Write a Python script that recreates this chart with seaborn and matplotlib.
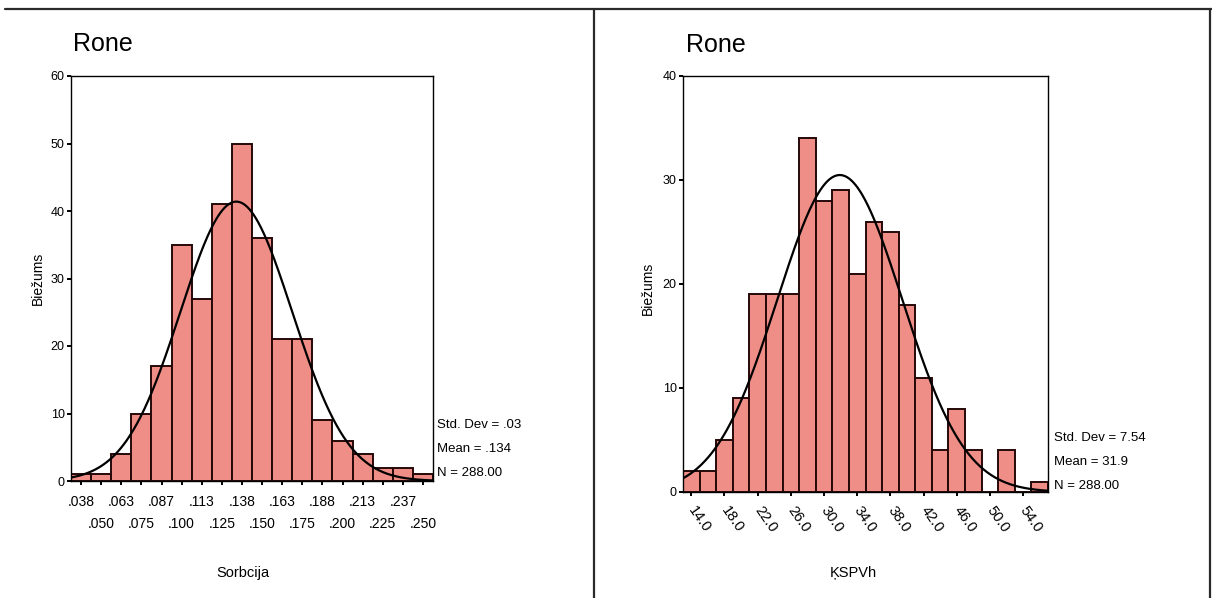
import numpy as np
import pandas as pd
import matplotlib
matplotlib.use("Agg")
import matplotlib.pyplot as plt
from matplotlib.lines import Line2D
import seaborn as sns

# ---- Sorbcija: frequency per bin (bin width 0.0125) ----
sorb_centers = [0.0375, 0.0500, 0.0625, 0.0750, 0.0875, 0.1000, 0.1125, 0.1250, 0.1375,
                0.1500, 0.1625, 0.1750, 0.1875, 0.2000, 0.2125, 0.2250, 0.2375, 0.2500]
sorb_counts = [1, 1, 4, 10, 17, 35, 27, 41, 50, 36, 21, 21, 9, 6, 4, 2, 2, 1]
sorb_ticklabels = [".038", ".050", ".063", ".075", ".087", ".100", ".113", ".125", ".138",
                   ".150", ".163", ".175", ".188", ".200", ".213", ".225", ".237", ".250"]
sorb_binwidth = 0.0125
sorb_mean = 0.134
sorb_sd = 0.0347
sorb_n = 288

# ---- KSPVh: frequency per bin (bin width 2) ----
kspvh_centers = [14, 16, 18, 20, 22, 24, 26, 28, 30, 32, 34, 36, 38, 40, 42, 44, 46, 48,
                 50, 52, 54, 56]
kspvh_counts = [2, 2, 5, 9, 19, 19, 19, 34, 28, 29, 21, 26, 25, 18, 11, 4, 8, 4, 0, 4, 0, 1]
kspvh_ticks = [14, 18, 22, 26, 30, 34, 38, 42, 46, 50, 54]
kspvh_ticklabels = ["14.0", "18.0", "22.0", "26.0", "30.0", "34.0", "38.0", "42.0",
                    "46.0", "50.0", "54.0"]
kspvh_binwidth = 2.0
kspvh_mean = 31.9
kspvh_sd = 7.54
kspvh_n = 288

title_text = "Rone"
ylabel_text = "Biežums"

sns.set_style("white")
plt.rcParams['font.family'] = ['Liberation Sans', 'DejaVu Sans']
plt.rcParams.update({"text.color": "black", "axes.labelcolor": "black",
                     "xtick.color": "black", "ytick.color": "black"})

BAR_FACE = "#EF8E86"
BAR_EDGE = "#260808"

W, H = 1212, 598
fig = plt.figure(figsize=(W / 100, H / 100), dpi=100)


def px_rect(x0, y_top, x1, y_bot):
    return [x0 / W, 1 - y_bot / H, (x1 - x0) / W, (y_bot - y_top) / H]


def draw_hist(ax, centers, counts, bw, mean, sd, n, ymax):
    centers = np.asarray(centers, dtype=float)
    lo = centers[0] - bw / 2
    hi = centers[-1] + bw / 2
    df = pd.DataFrame({"x": centers, "w": counts})
    sns.histplot(data=df, x="x", weights="w", binwidth=bw, binrange=(lo, hi), ax=ax,
                 color=BAR_FACE, edgecolor=BAR_EDGE, linewidth=1.4, alpha=1.0)
    # fitted normal curve scaled to counts
    xs = np.linspace(lo, hi, 500)
    ys = n * bw / (sd * np.sqrt(2 * np.pi)) * np.exp(-0.5 * ((xs - mean) / sd) ** 2)
    sns.lineplot(x=xs, y=ys, ax=ax, color="black", linewidth=1.6)
    ax.set_xlim(lo, hi)
    ax.set_ylim(0, ymax)
    ax.set_yticks(np.arange(0, ymax + 1, 10))
    ax.set_yticklabels([str(v) for v in range(0, ymax + 1, 10)], fontsize=9)
    ax.tick_params(axis="both", which="both", direction="out", length=3,
                   width=1.4, color="black", bottom=True, left=True)
    ax.tick_params(axis="y", pad=1.5)
    for s in ax.spines.values():
        s.set_color("black")
        s.set_linewidth(1.0)
    ax.set_xlabel("")
    ax.set_ylabel("")


def stats_block(x_px, y_px, sd_txt, mean_txt, n):
    lines = [f"Std. Dev = {sd_txt}", f"Mean = {mean_txt}", f"N = {n:.2f}"]
    for i, t in enumerate(lines):
        fig.text(x_px / W, 1 - (y_px + 24 * i) / H, t, fontsize=9.5,
                 ha="left", va="center")


# ---- left panel: Sorbcija ----
axL = fig.add_axes(px_rect(71, 76, 433, 481))
draw_hist(axL, sorb_centers, sorb_counts, sorb_binwidth, sorb_mean, sorb_sd, sorb_n, 60)
axL.set_xticks(sorb_centers[0::2])
axL.set_xticklabels(sorb_ticklabels[0::2], fontsize=10)
axL.set_xticks(sorb_centers[1::2], minor=True)
axL.set_xticklabels(sorb_ticklabels[1::2], minor=True, fontsize=10)
axL.tick_params(axis="x", which="major", pad=7)
axL.tick_params(axis="x", which="minor", pad=23)

fig.text(73 / W, 1 - 44 / H, title_text, fontsize=18, ha="left", va="center")
fig.text(38 / W, 1 - 278 / H, ylabel_text, fontsize=10, rotation=90,
         ha="center", va="center")
fig.text(243 / W, 1 - 573 / H, "Sorbcija", fontsize=10.5, ha="center", va="center")
stats_block(437, 425, f"{sorb_sd:.2f}".lstrip("0"), f"{sorb_mean:.3f}".lstrip("0"), sorb_n)

# ---- right panel: KSPVh ----
axR = fig.add_axes(px_rect(683, 76, 1048, 492))
draw_hist(axR, kspvh_centers, kspvh_counts, kspvh_binwidth, kspvh_mean, kspvh_sd,
          kspvh_n, 40)
axR.set_xticks(kspvh_ticks)
axR.set_xticklabels(kspvh_ticklabels, fontsize=10.5, rotation=-55, ha="left",
                    va="center", rotation_mode="anchor")
axR.tick_params(axis="x", which="major", pad=8)

fig.text(686 / W, 1 - 45 / H, title_text, fontsize=18, ha="left", va="center")
fig.text(648 / W, 1 - 288 / H, ylabel_text, fontsize=10, rotation=90,
         ha="center", va="center")
fig.text(853 / W, 1 - 573 / H, "ĶSPVh", fontsize=10.5, ha="center", va="center")
stats_block(1054, 438, f"{kspvh_sd:.2f}", f"{kspvh_mean:.1f}", kspvh_n)

# ---- page frame around the two panels ----
frame = [((5, 9), (1212, 9)), ((594, 9), (594, 598)), ((1210, 9), (1210, 598))]
for (x0, y0), (x1, y1) in frame:
    fig.add_artist(Line2D([x0 / W, x1 / W], [1 - y0 / H, 1 - y1 / H],
                          transform=fig.transFigure, color="#2a2a2a", linewidth=1.6))

fig.savefig("out.png", dpi=100, facecolor="white")
